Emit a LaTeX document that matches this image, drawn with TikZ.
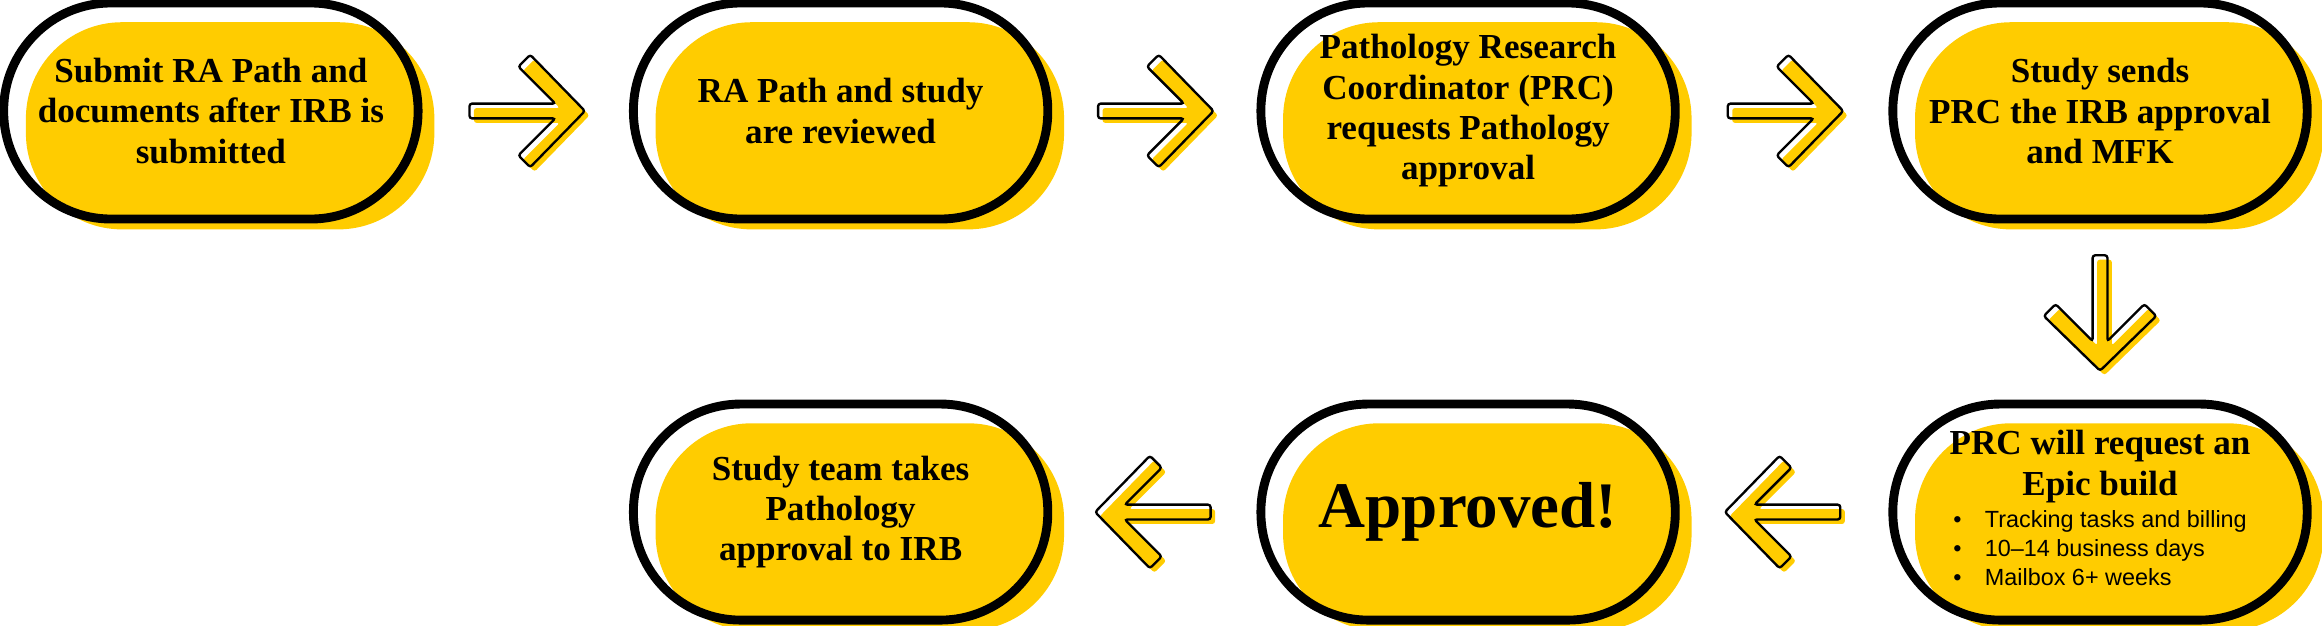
\documentclass[tikz,border=0pt]{standalone}
\usepackage{fontspec}
\setmainfont{Liberation Serif}
\setsansfont{Liberation Sans}
\usetikzlibrary{calc,backgrounds}

\definecolor{pathy}{HTML}{FFCC00}

\tikzset{
  pill/.style={draw, line width=0.12cm, rounded corners=1.45cm,
    minimum width=5.6cm, minimum height=2.92cm, align=center,
    font=\fontsize{13.5}{15.5}\selectfont\bfseries, inner sep=0pt},
  flow arrow/.pic={
    \fill[pathy, shift={(0.06,-0.06)}, rotate=#1, x=0.02cm, y=0.02cm, rounded corners=1pt]
      (-38,-5) -- (20,-5) -- (-5,-30) -- (3,-38) -- (40,0) -- (3,38) -- (-5,30) -- (20,5) -- (-38,5) -- cycle;
    \draw[rotate=#1, x=0.02cm, y=0.02cm, line width=0.9pt, rounded corners=1pt]
      (-38,-5) -- (20,-5) -- (-5,-30) -- (3,-38) -- (40,0) -- (3,38) -- (-5,30) -- (20,5) -- (-38,5) -- cycle;
  }
}

\begin{document}
\begin{tikzpicture}
\useasboundingbox (0,0) rectangle (31.38,-8.45);

% top row
\node[pill] (p1) at (2.85,-1.5) {Submit RA Path and\\documents after IRB is\\submitted};
\node[pill] (p2) at (11.36,-1.5) {RA Path and study\\are reviewed};
\node[pill] (p3) at (19.84,-1.5) {Pathology Research\\Coordinator (PRC)\\requests Pathology\\approval};
\node[pill] (p4) at (28.38,-1.5) {Study sends\\PRC the IRB approval\\and MFK};

% bottom row
\node[pill] (p5) at (28.38,-6.92) {PRC will request an\\Epic build\\[1pt]
  {\sffamily\mdseries\fontsize{9}{11}\selectfont
  \begin{tabular}{@{}l@{\hspace{9pt}}l@{}}
  \textbullet & Tracking tasks and billing\\
  \textbullet & 10--14 business days\\
  \textbullet & Mailbox 6+ weeks
  \end{tabular}}};
\node[pill, font=\fontsize{25}{28}\selectfont\bfseries] (p6) at (19.84,-6.92) {Approved!};
\node[pill] (p7) at (11.36,-6.92) {Study team takes\\Pathology\\approval to IRB};

% yellow backs
\begin{scope}[on background layer]
  \foreach \n in {p1,p2,p3,p4,p5,p6,p7}
    \fill[pathy, rounded corners=1.3cm]
      ($(\n.north west)+(0.36,-0.32)$) rectangle ($(\n.south east)+(0.16,-0.08)$);
\end{scope}

% arrows
\path ($(p1.east)!0.5!(p2.west)$) pic {flow arrow=0};
\path ($(p2.east)!0.5!(p3.west)$) pic {flow arrow=0};
\path ($(p3.east)!0.5!(p4.west)$) pic {flow arrow=0};
\path ($(p4.south)!0.5!(p5.north)$) pic {flow arrow=-90};
\path ($(p5.west)!0.5!(p6.east)$) pic {flow arrow=180};
\path ($(p6.west)!0.5!(p7.east)$) pic {flow arrow=180};
\end{tikzpicture}
\end{document}
